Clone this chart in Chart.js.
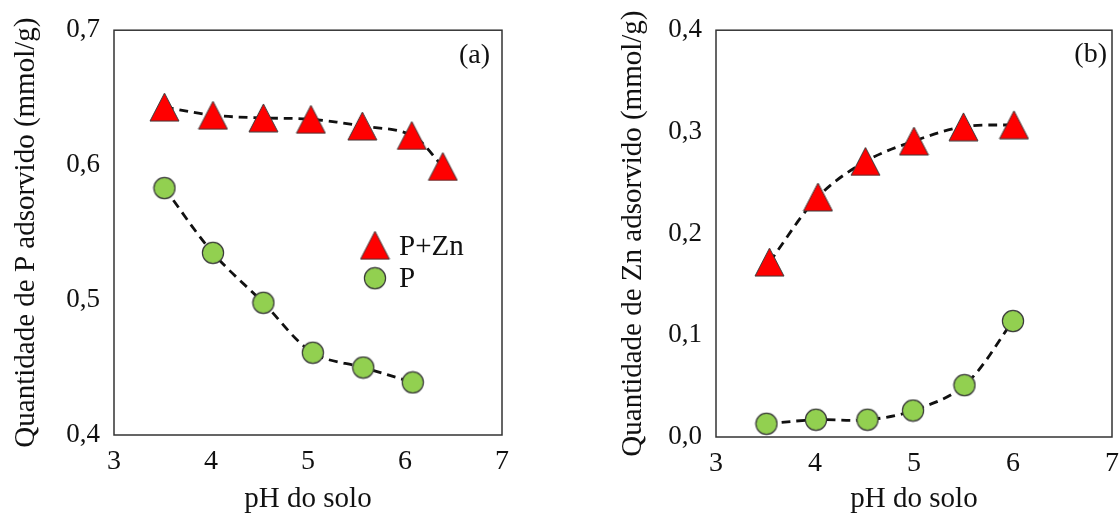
<!DOCTYPE html>
<html>
<head>
<meta charset="utf-8">
<script src="https://cdn.jsdelivr.net/npm/chart.js@4/dist/chart.umd.min.js"></script>
<style>
  html, body { margin: 0; padding: 0; background: #fff; overflow: hidden; }
  body { width: 1119px; height: 517px; position: relative; }
  .painel { position: absolute; top: 0; height: 517px; }
  #painelA { left: 0; width: 545px; }
  #painelB { left: 560px; width: 580px; }
  #aquecer { position: absolute; left: -2000px; top: 0; font: 26px "Liberation Serif"; }
</style>
</head>
<body>
<div id="aquecer">Quantidade 0,1234567 pH</div>
<div class="painel" id="painelA"><canvas id="graficoA"></canvas></div>
<div class="painel" id="painelB"><canvas id="graficoB"></canvas></div>
<script>
// (a) P adsorvido
const phPZnA = [3.52, 4.02, 4.54, 5.03, 5.56, 6.07, 6.39];
const pznA = [0.643, 0.637, 0.635, 0.634, 0.629, 0.622, 0.599];
const phPA = [3.52, 4.02, 4.54, 5.05, 5.57, 6.08];
const pA = [0.583, 0.535, 0.498, 0.461, 0.450, 0.439];

// (b) Zn adsorvido
const phPZnB = [3.54, 4.03, 4.51, 5.00, 5.50, 6.01];
const pznB = [0.172, 0.236, 0.271, 0.291, 0.305, 0.307];
const phPB = [3.51, 4.01, 4.53, 4.99, 5.51, 6.00];
const pB = [0.013, 0.017, 0.017, 0.026, 0.051, 0.114];

const rotulos = ['P+Zn', 'P'];
const fonte = '"Liberation Serif"';
const corTexto = '#111';

function triangulo() {
    const c = document.createElement('canvas');
    c.width = 31; c.height = 30;
    const ctx = c.getContext('2d');
    ctx.beginPath();
    ctx.moveTo(15.5, 1);
    ctx.lineTo(30, 29);
    ctx.lineTo(1, 29);
    ctx.closePath();
    ctx.fillStyle = '#ff0000';
    ctx.fill();
    ctx.lineWidth = 1;
    ctx.strokeStyle = '#3a3a3a';
    ctx.stroke();
    return c;
}

function circulo() {
    const c = document.createElement('canvas');
    c.width = 24; c.height = 24;
    const ctx = c.getContext('2d');
    ctx.beginPath();
    ctx.arc(12, 12, 10.6, 0, Math.PI * 2);
    ctx.fillStyle = '#92d050';
    ctx.fill();
    ctx.lineWidth = 1.2;
    ctx.strokeStyle = '#3a3a3a';
    ctx.stroke();
    return c;
}

const marcaTri = triangulo();
const marcaCirc = circulo();

function pontos(xs, ys) {
    return xs.map((x, i) => ({ x: x, y: ys[i] }));
}

function serie(label, xs, ys, marca) {
    return {
        label: label,
        data: pontos(xs, ys),
        showLine: true,
        borderColor: '#111',
        borderWidth: 2.8,
        borderDash: [9, 6],
        tension: 0.35,
        pointStyle: marca,
        pointRadius: 12,
        pointHoverRadius: 12
    };
}

const caixa = {
    id: 'caixa',
    afterDraw(chart, args, opts) {
        const { ctx, chartArea: a } = chart;
        ctx.save();
        ctx.strokeStyle = '#333';
        ctx.lineWidth = 1.5;
        ctx.strokeRect(a.left, a.top, a.right - a.left, a.bottom - a.top);
        ctx.font = '28px ' + fonte;
        ctx.fillStyle = corTexto;
        ctx.textAlign = 'right';
        ctx.textBaseline = 'middle';
        ctx.fillText(opts.letra, a.right - opts.dx, a.top + opts.dy);
        if (opts.legenda) {
            const lx = a.left + 261, ly = a.top + 215;
            ctx.drawImage(marcaTri, lx - 15.5, ly - 15);
            ctx.drawImage(marcaCirc, lx - 12, ly + 33 - 12);
            ctx.textAlign = 'left';
            ctx.font = '29px ' + fonte;
            ctx.fillText(rotulos[0], lx + 24, ly + 2);
            ctx.fillText(rotulos[1], lx + 24, ly + 34);
        }
        ctx.restore();
    }
};

function criarGrafico(id, dados, ymin, ymax, layout) {
    return new Chart(document.getElementById(id), {
        type: 'scatter',
        data: { datasets: dados },
        plugins: [caixa],
        options: {
            responsive: true,
            maintainAspectRatio: false,
            animation: false,
            layout: { padding: { top: layout.top, right: layout.right, left: 0, bottom: 0 } },
            plugins: {
                legend: { display: false },
                tooltip: { enabled: false },
                caixa: { letra: layout.letra, dx: layout.dx, dy: layout.dy, legenda: layout.legenda }
            },
            scales: {
                x: {
                    type: 'linear',
                    min: 3,
                    max: 7,
                    grid: { display: false, drawTicks: false },
                    border: { display: false },
                    ticks: {
                        stepSize: 1,
                        padding: 10,
                        color: corTexto,
                        font: { family: fonte, size: 28 }
                    },
                    title: {
                        display: true,
                        text: 'pH do solo',
                        color: corTexto,
                        font: { family: fonte, size: 29 },
                        padding: { top: 0, bottom: 0 }
                    },
                    afterFit(scale) { scale.height = layout.alturaX; }
                },
                y: {
                    min: ymin,
                    max: ymax,
                    grid: { display: false, drawTicks: false },
                    border: { display: false },
                    ticks: {
                        stepSize: 0.1,
                        padding: 14,
                        color: corTexto,
                        font: { family: fonte, size: 27 },
                        callback: v => v.toFixed(1).replace('.', ',')
                    },
                    title: {
                        display: true,
                        text: layout.tituloY,
                        color: corTexto,
                        font: { family: fonte, size: 29 },
                        padding: { top: layout.tituloPad, bottom: 0 }
                    },
                    afterFit(scale) { scale.width = layout.larguraY; }
                }
            }
        }
    });
}

function desenhar() {
    criarGrafico('graficoA', [
        serie(rotulos[0], phPZnA, pznA, marcaTri),
        serie(rotulos[1], phPA, pA, marcaCirc)
    ], 0.4, 0.7, {
        top: 22, right: 43, alturaX: 82, larguraY: 114, tituloPad: 9,
        tituloY: 'Quantidade de P adsorvido (mmol/g)',
        letra: '(a)', dx: 12, dy: 25, legenda: true
    });

    criarGrafico('graficoB', [
        serie(rotulos[0], phPZnB, pznB, marcaTri),
        serie(rotulos[1], phPB, pB, marcaCirc)
    ], 0, 0.4, {
        top: 23, right: 28, alturaX: 80, larguraY: 156, tituloPad: 56,
        tituloY: 'Quantidade de Zn adsorvido (mmol/g)',
        letra: '(b)', dx: 5, dy: 24, legenda: false
    });
}

if (document.fonts && document.fonts.load) {
    document.fonts.load('28px "Liberation Serif"').then(desenhar, desenhar);
} else {
    desenhar();
}
</script>
</body>
</html>
